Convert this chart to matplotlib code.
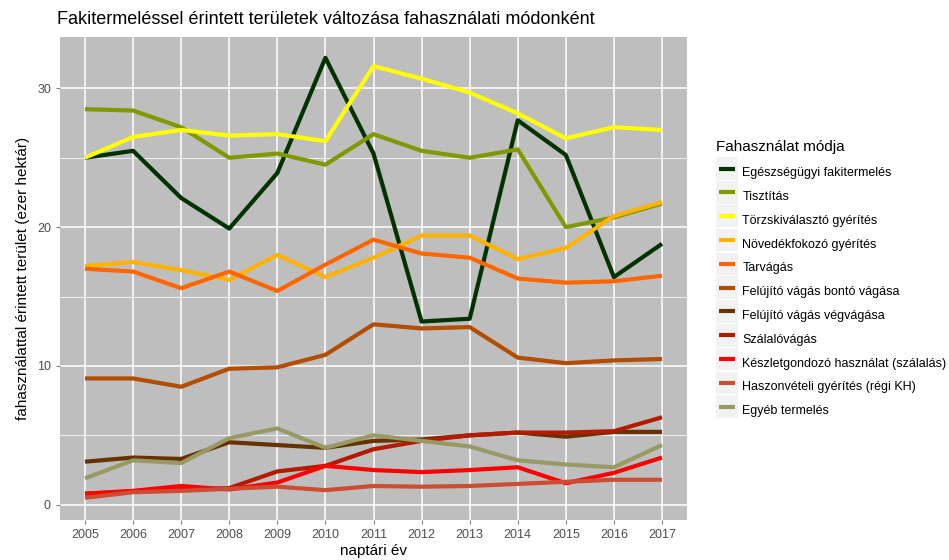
import matplotlib
matplotlib.use('Agg')
import matplotlib.pyplot as plt
from matplotlib.ticker import MultipleLocator
from matplotlib.legend_handler import HandlerLine2D
from matplotlib.patches import Rectangle

plt.rcParams['font.family'] = ['Liberation Sans', 'DejaVu Sans']

years = list(range(2005, 2018))

series_names = ['Egészségügyi fakitermelés', 'Tisztítás', 'Törzskiválasztó gyérítés',
                'Növedékfokozó gyérítés', 'Tarvágás', 'Felújító vágás bontó vágása',
                'Felújító vágás végvágása', 'Szálalóvágás', 'Készletgondozó használat (szálalás)',
                'Haszonvételi gyérítés (régi KH)', 'Egyéb termelés']
series_colors = ['#003300', '#809900', '#FFFF00', '#FFB300', '#FF6600', '#B34D00',
                 '#663300', '#B31A00', '#FF0000', '#CC4D33', '#999966']

egeszsegugyi = [25.0, 25.5, 22.1, 19.9, 23.9, 32.2, 25.3, 13.2, 13.4, 27.7, 25.2, 16.4, 18.8]
tisztitas = [28.5, 28.4, 27.2, 25.0, 25.3, 24.5, 26.7, 25.5, 25.0, 25.6, 20.0, 20.7, 21.7]
torzskivalaszto = [25.0, 26.5, 27.0, 26.6, 26.7, 26.2, 31.6, 30.7, 29.7, 28.2, 26.4, 27.2, 27.0]
novedekfokozo = [17.2, 17.5, 16.9, 16.2, 18.0, 16.4, 17.8, 19.4, 19.4, 17.7, 18.5, 20.8, 21.8]
tarvagas = [17.0, 16.8, 15.6, 16.8, 15.4, 17.3, 19.1, 18.1, 17.8, 16.3, 16.0, 16.1, 16.5]
bonto = [9.1, 9.1, 8.5, 9.8, 9.9, 10.8, 13.0, 12.7, 12.8, 10.6, 10.2, 10.4, 10.5]
vegvagas = [3.1, 3.4, 3.3, 4.5, 4.3, 4.1, 4.6, 4.7, 5.0, 5.2, 4.9, 5.25, 5.25]
szalalo = [0.8, 0.95, 1.05, 1.2, 2.4, 2.8, 4.0, 4.6, 5.0, 5.2, 5.2, 5.3, 6.3]
keszletgondozo = [0.8, 1.0, 1.35, 1.1, 1.6, 2.8, 2.5, 2.35, 2.5, 2.7, 1.55, 2.3, 3.4]
haszonveteli = [0.5, 0.9, 1.0, 1.15, 1.3, 1.05, 1.35, 1.3, 1.35, 1.5, 1.65, 1.8, 1.8]
egyeb = [1.9, 3.2, 3.0, 4.8, 5.5, 4.1, 5.0, 4.6, 4.2, 3.2, 2.9, 2.7, 4.3]

all_series = [egeszsegugyi, tisztitas, torzskivalaszto, novedekfokozo, tarvagas, bonto,
              vegvagas, szalalo, keszletgondozo, haszonveteli, egyeb]


class KeyHandler(HandlerLine2D):
    # grey key background like ggplot, centred on the key line
    def create_artists(self, legend, orig_handle, xdescent, ydescent, width, height,
                       fontsize, trans):
        bg = Rectangle((-xdescent, -ydescent / 2), width, height, facecolor='#F2F2F2',
                       edgecolor='none', transform=trans)
        arts = super().create_artists(legend, orig_handle, xdescent - 2, ydescent,
                                      width - 4, height, fontsize, trans)
        for a in arts:
            a.set_linewidth(3)
        return [bg] + arts


fig = plt.figure(figsize=(9.49, 5.6), dpi=100)
ax = fig.add_axes([60 / 949, 40 / 560, 627 / 949, 483 / 560])

ax.set_facecolor('#BEBEBE')
for s in ax.spines.values():
    s.set_visible(False)

ax.yaxis.set_major_locator(MultipleLocator(10))
ax.yaxis.set_minor_locator(MultipleLocator(5))
ax.set_xticks(years)
ax.grid(which='major', color='white', linewidth=1.1)
ax.grid(which='minor', axis='y', color='white', linewidth=0.55)
ax.set_axisbelow(True)

lines = []
for name, vals, col in zip(series_names, all_series, series_colors):
    ln, = ax.plot(years, vals, color=col, linewidth=3.0, label=name, solid_capstyle='butt')
    lines.append(ln)

ax.set_xlim(2004.48, 2017.52)
ax.set_ylim(-1.1, 33.7)
ax.tick_params(which='major', colors='#7F7F7F', labelcolor='#4D4D4D', labelsize=9, length=3)
ax.tick_params(which='minor', length=0)

ax.set_xlabel('naptári év', fontsize=11, labelpad=2)
ax.set_ylabel('fahasználattal érintett terület (ezer hektár)', fontsize=11, labelpad=5)
fig.text(57 / 949, 1 - 20 / 560, 'Fakitermeléssel érintett területek változása fahasználati módonként',
         fontsize=13, va='center', ha='left')

fig.text(716 / 949, 1 - 147 / 560, 'Fahasználat módja', fontsize=11, va='center', ha='left')
leg = fig.legend(handles=lines, loc='upper left', bbox_to_anchor=(716 / 949, 1 - 161 / 560),
                 frameon=False, fontsize=9,
                 handlelength=1.75, handleheight=2.4, labelspacing=0.1, handletextpad=0.35,
                 borderaxespad=0, borderpad=0,
                 handler_map={l: KeyHandler() for l in lines})

fig.savefig('out.png', dpi=100)
